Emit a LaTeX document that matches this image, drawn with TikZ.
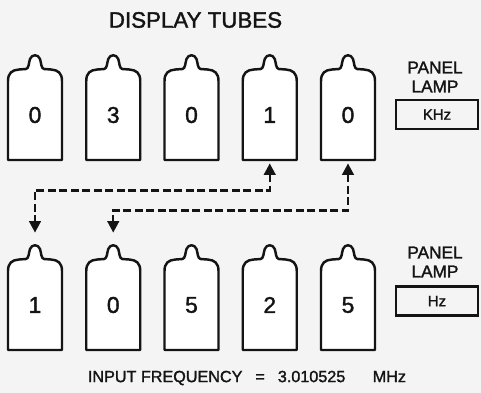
\documentclass[tikz,border=0pt]{standalone}
\usepackage{fontspec}
\setmainfont{Liberation Sans}[BoldFont={Liberation Sans}, BoldFeatures={FakeBold=1.6}]
\usetikzlibrary{positioning, arrows.meta, calc}
\definecolor{paper}{RGB}{244, 244, 244}
\definecolor{ink}{RGB}{20, 20, 20}

\newcommand{\tubeglass}[1]{%
    \draw[glass, shift={#1}] (-27,45) -- (-27,-34)
        .. controls (-27,-42) and (-23,-45) .. (-16,-45.5)
        -- (-9,-46)
        .. controls (-6,-47) and (-6.5,-51) .. (-5,-56)
        .. controls (-3,-61) and (3,-61) .. (5,-56)
        .. controls (6.5,-51) and (6,-47) .. (9,-46)
        -- (16,-45.5)
        .. controls (23,-45) and (27,-42) .. (27,-34)
        -- (27,45) -- cycle;}

\begin{document}
\begin{tikzpicture}[
        x=0.2mm, y=-0.2mm,
        every node/.style={text=ink},
        tube/.style={
            minimum width=10.8mm, minimum height=18mm,
            inner sep=0pt,
            font=\fontsize{13}{13}\selectfont\bfseries
        },
        glass/.style={draw=ink, line width=1.4pt, fill=white, line join=round},
        lamp/.style={
            draw=ink, line width=1.4pt,
            minimum width=16.4mm, minimum height=5.8mm, inner sep=0pt,
            font=\fontsize{8.5}{8.5}\selectfont\bfseries
        },
        plbl/.style={align=center, font=\fontsize{9.8}{10.8}\selectfont\bfseries},
        link/.style={
            draw=ink, line width=1.4pt, dash pattern=on 1.6mm off 0.7mm,
            {Triangle[length=2.3mm, width=2.3mm]}-{Triangle[length=2.3mm, width=2.3mm]}
        }
    ]

    \useasboundingbox[fill=paper] (0,0) rectangle (481,393);

    \node[font=\fontsize{12.7}{13}\selectfont\bfseries] (title) at (195.5,20) {DISPLAY TUBES};

    % upper row
    \foreach \d [count=\i] in {0,3,0,1,0} {
        \pgfmathsetmacro{\cx}{35+78.25*(\i-1)}
        \tubeglass{(\cx,115)}
        \node[tube] (top\i) at (\cx,115) {\d};
    }

    % lower row
    \foreach \d [count=\i] in {1,0,5,2,5} {
        \pgfmathsetmacro{\cx}{35+78.25*(\i-1)}
        \tubeglass{(\cx,305)}
        \node[tube] (bot\i) at (\cx,305) {\d};
    }

    \draw[link, shorten <=0.6mm, shorten >=5.4mm] (top4.south) -- ++(0,30) -| (bot1.north);
    \draw[link, shorten <=0.6mm, shorten >=5.4mm] (top5.south) -- ++(0,50) -| (bot2.north);

    \node[plbl] (lamp1) at (435,77) {PANEL\\LAMP};
    \node[lamp] (khz) at (437,114.5) {KHz};

    \node[plbl] (lamp2) at (435,262) {PANEL\\LAMP};
    \node[lamp] (hz) at (437,301) {Hz};

    \node[font=\fontsize{9.2}{10}\selectfont\bfseries] (freq) at (247,378)
        {INPUT FREQUENCY\hspace{2.6mm}=\hspace{2.6mm}3.010525\hspace{5.5mm}MHz};

\end{tikzpicture}
\end{document}
